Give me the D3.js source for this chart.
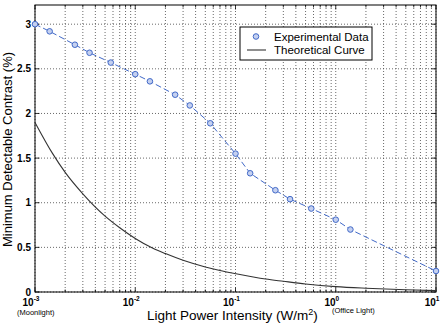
<!DOCTYPE html>
<html>
<head>
<meta charset="utf-8">
<script src="https://cdn.jsdelivr.net/npm/d3@7"></script>
<style>
  body { margin: 0; background: #fff; }
  svg text { font-family: "Liberation Sans", Arial, sans-serif; }
</style>
</head>
<body>
<div id="chart"></div>
<script>
// experimental data (blue circles, dashed line)
const expX = [0.001, 0.0014, 0.0025, 0.0035, 0.0057, 0.01, 0.014, 0.025, 0.035, 0.056,
              0.1, 0.14, 0.25, 0.35, 0.57, 1.0, 1.4, 10];
const expY = [3.0, 2.92, 2.77, 2.68, 2.57, 2.44, 2.36, 2.21, 2.09, 1.89,
              1.55, 1.33, 1.14, 1.04, 0.935, 0.81, 0.70, 0.235];

// theoretical curve (solid dark line)
const theoX = [0.001, 0.0015, 0.002, 0.003, 0.005, 0.007, 0.01, 0.015, 0.02, 0.03,
               0.05, 0.07, 0.1, 0.2, 0.3, 0.5, 1, 2, 5, 10];
const theoY = [1.90, 1.55, 1.34, 1.10, 0.85, 0.72, 0.60, 0.49, 0.43, 0.355,
               0.28, 0.24, 0.205, 0.145, 0.12, 0.09, 0.06, 0.042, 0.025, 0.015];

const yTicks = [0, 0.5, 1, 1.5, 2, 2.5, 3];
const xDecades = [-3, -2, -1, 0, 1];
const legendLabels = ["Experimental Data", "Theoretical Curve"];

const width = 442, height = 324;
const margin = {top: 5, right: 6, bottom: 32, left: 35};
const w = width - margin.left - margin.right;
const h = height - margin.top - margin.bottom;

const svg = d3.select("#chart").append("svg")
  .attr("width", width)
  .attr("height", height);

const g = svg.append("g")
  .attr("transform", `translate(${margin.left},${margin.top})`);

const x = d3.scaleLog().domain([1e-3, 10]).range([0, w]);
const y = d3.scaleLinear().domain([0, 3.215]).range([h, 0]);

// minor tick values for the log axis
const minorX = [];
xDecades.slice(0, -1).forEach(e => {
  for (let k = 2; k <= 9; k++) minorX.push(k * Math.pow(10, e));
});
const allX = xDecades.map(e => Math.pow(10, e)).concat(minorX);

// dotted grid
const grid = g.append("g").attr("stroke", "#444").attr("stroke-width", 0.8)
  .attr("stroke-dasharray", "1,2");
grid.selectAll(".gx").data(allX).join("line")
  .attr("x1", d => x(d)).attr("x2", d => x(d))
  .attr("y1", 0).attr("y2", h);
grid.selectAll(".gy").data(yTicks).join("line")
  .attr("x1", 0).attr("x2", w)
  .attr("y1", d => y(d)).attr("y2", d => y(d));

// tick marks inward on all four sides
const ticks = g.append("g").attr("stroke", "#000").attr("stroke-width", 0.8);
allX.forEach(v => {
  const len = minorX.includes(v) ? 2.5 : 4.5;
  ticks.append("line").attr("x1", x(v)).attr("x2", x(v)).attr("y1", h).attr("y2", h - len);
  ticks.append("line").attr("x1", x(v)).attr("x2", x(v)).attr("y1", 0).attr("y2", len);
});
yTicks.forEach(v => {
  ticks.append("line").attr("x1", 0).attr("x2", 4.5).attr("y1", y(v)).attr("y2", y(v));
  ticks.append("line").attr("x1", w).attr("x2", w - 4.5).attr("y1", y(v)).attr("y2", y(v));
});

// frame
g.append("rect").attr("width", w).attr("height", h)
  .attr("fill", "none").attr("stroke", "#000").attr("stroke-width", 1);

// y tick labels
g.selectAll(".ylab").data(yTicks).join("text")
  .attr("x", -4).attr("y", d => y(d) + 3.5)
  .attr("text-anchor", "end")
  .attr("font-size", 10).attr("font-weight", "bold")
  .text(d => d);

// x tick labels 10^n
const xl = g.selectAll(".xlab").data(xDecades).join("text")
  .attr("x", d => x(Math.pow(10, d)) - 4)
  .attr("y", h + 14)
  .attr("text-anchor", "middle")
  .attr("font-size", 10).attr("font-weight", "bold");
xl.append("tspan").text("10");
xl.append("tspan").attr("dy", -5).attr("font-size", 6.5).text(d => d);

// axis titles
g.append("text")
  .attr("transform", `translate(${-23},${h / 2 + 1}) rotate(-90)`)
  .attr("text-anchor", "middle")
  .attr("font-size", 13)
  .text("Minimum Detectable Contrast (%)");

const xt = g.append("text")
  .attr("x", 112).attr("y", h + 28)
  .attr("font-size", 13.5);
xt.append("tspan").text("Light Power Intensity (W/m");
xt.append("tspan").attr("dy", -5).attr("font-size", 9).text("2");
xt.append("tspan").attr("dy", 5).text(")");

g.append("text").attr("x", -18).attr("y", h + 23)
  .attr("font-size", 7.5).text("(Moonlight)");
g.append("text").attr("x", 297).attr("y", h + 21)
  .attr("font-size", 7.5).text("(Office Light)");

// curves
const blue = "#4169c8";
const expData = expX.map((v, i) => ({x: v, y: expY[i]}));
const theoData = theoX.map((v, i) => ({x: v, y: theoY[i]}));

g.append("path").datum(theoData)
  .attr("fill", "none").attr("stroke", "#333").attr("stroke-width", 1.1)
  .attr("d", d3.line().x(d => x(d.x)).y(d => y(d.y)).curve(d3.curveMonotoneX));

g.append("path").datum(expData)
  .attr("fill", "none").attr("stroke", blue).attr("stroke-width", 1)
  .attr("stroke-dasharray", "6,3")
  .attr("d", d3.line().x(d => x(d.x)).y(d => y(d.y)));

g.selectAll(".pt").data(expData).join("circle")
  .attr("cx", d => x(d.x)).attr("cy", d => y(d.y)).attr("r", 2.8)
  .attr("fill", "#c4d0f0").attr("stroke", blue).attr("stroke-width", 1);

// legend
const lg = g.append("g").attr("transform", `translate(${205},${22})`);
lg.append("rect").attr("width", 132).attr("height", 33)
  .attr("fill", "#fff").attr("stroke", "#000").attr("stroke-width", 1);
lg.append("circle").attr("cx", 16).attr("cy", 9.5).attr("r", 2.8)
  .attr("fill", "#c4d0f0").attr("stroke", blue);
lg.append("line").attr("x1", 7).attr("x2", 26).attr("y1", 23).attr("y2", 23)
  .attr("stroke", "#333").attr("stroke-width", 1.1);
lg.selectAll(".lt").data(legendLabels).join("text")
  .attr("x", 34).attr("y", (d, i) => 13.5 + i * 13)
  .attr("font-size", 11.5)
  .text(d => d);
</script>
</body>
</html>
